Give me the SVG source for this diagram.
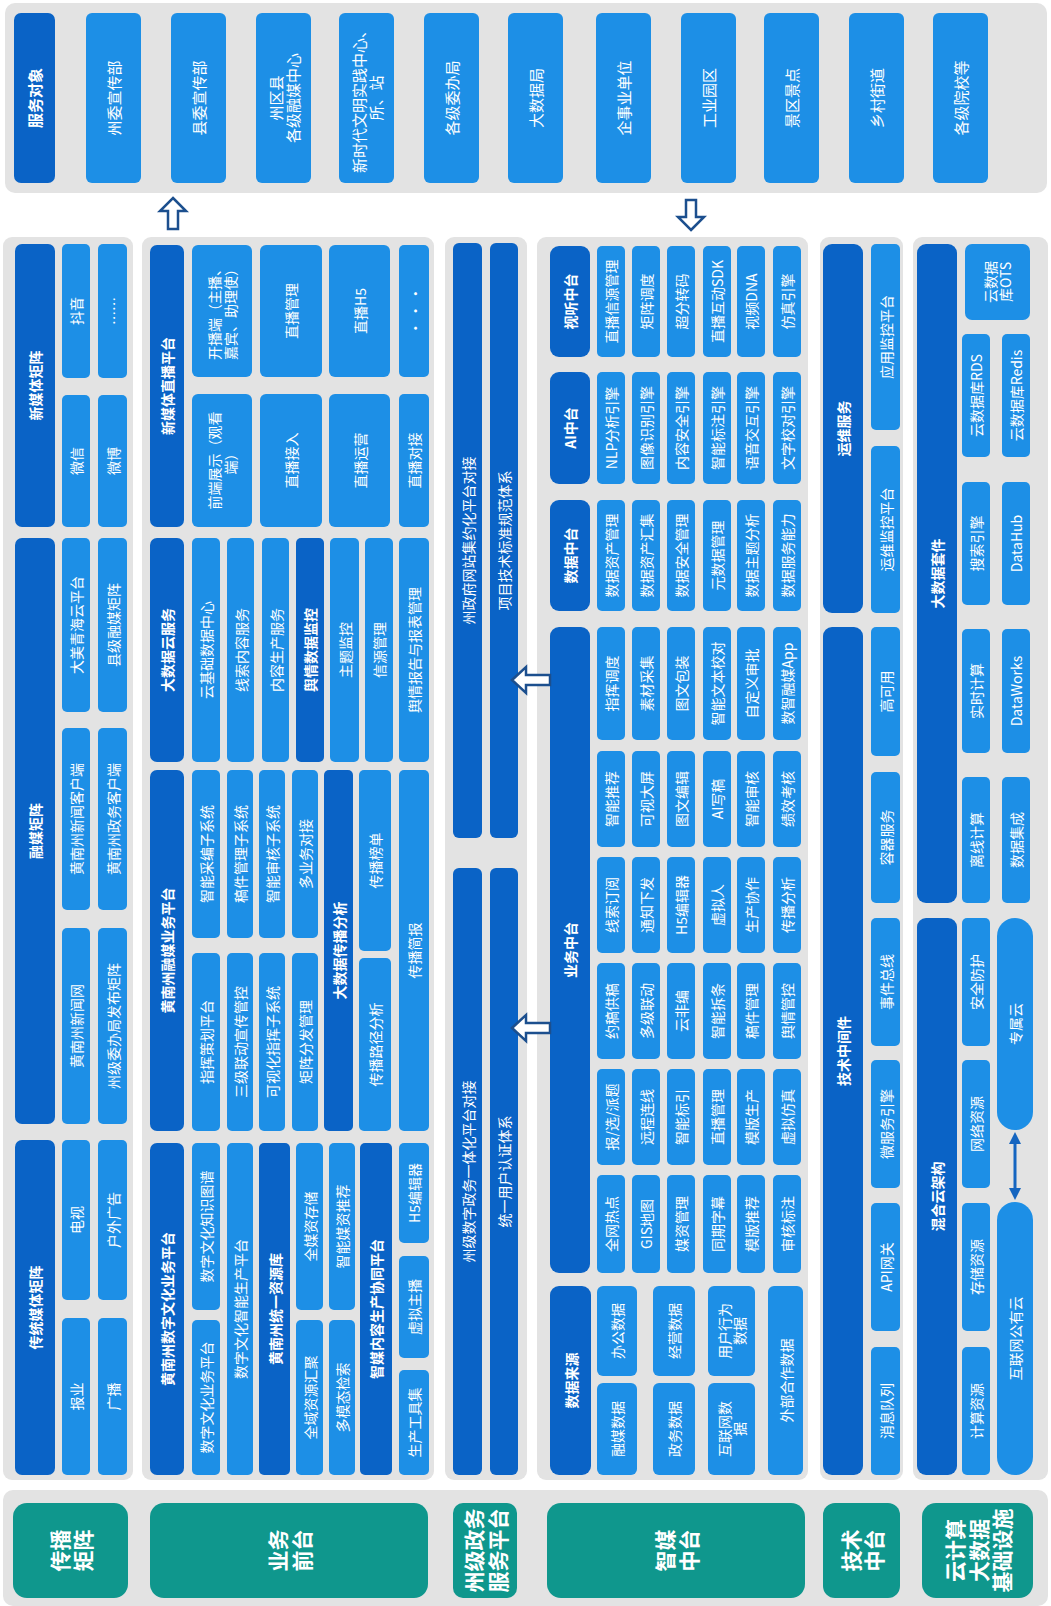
<svg xmlns="http://www.w3.org/2000/svg" width="1051" height="1606" viewBox="0 0 1051 1606">
<defs>
<style>
.pn{fill:#e3e3e3}
.hd{fill:#0a63c6}
.it{fill:#1d8fe6}
.tl{fill:#0f978d}
.t{font-family:"Noto Sans CJK SC","Noto Sans",sans-serif;font-size:14px;fill:#fff;text-anchor:middle;dominant-baseline:central}
.b{font-weight:bold}
.s{font-size:15px}
.tt{font-size:21px;font-weight:bold}
.ar{fill:#fff;stroke:#1c4f8e;stroke-width:2.5}
.dl{stroke:#1565c0;stroke-width:3;fill:none}
</style>
<marker id="ah" viewBox="0 0 10 10" refX="5" refY="5" markerWidth="4" markerHeight="4" orient="auto-start-reverse"><path d="M0,0 L10,5 L0,10 Z" fill="#1565c0"/></marker>
</defs>
<rect width="1051" height="1606" fill="#fff"/>

<!-- panels -->
<g id="panels">
<rect class="pn" x="5" y="3" width="1042" height="190" rx="10"/>
<rect class="pn" x="3" y="237" width="130" height="1243" rx="9"/>
<rect class="pn" x="142" y="237" width="292" height="1243" rx="9"/>
<rect class="pn" x="445" y="237" width="82" height="1243" rx="9"/>
<rect class="pn" x="537" y="237" width="271" height="1243" rx="9"/>
<rect class="pn" x="820" y="237" width="83" height="1243" rx="9"/>
<rect class="pn" x="913" y="237" width="135" height="1243" rx="9"/>
<rect class="pn" x="3" y="1490" width="1045" height="116" rx="10"/>
</g>

<!-- service objects -->
<g id="service">
<g id="n-fwdx"><rect class="hd" x="14" y="13" width="41" height="170" rx="7"/><text class="t s b" x="34.5" y="98" transform="rotate(-90 34.5 98)">服务对象</text></g>
<g id="n-s1"><rect class="it" x="86" y="13" width="55" height="170" rx="6"/><text class="t s" x="113.5" y="98" transform="rotate(-90 113.5 98)">州委宣传部</text></g>
<g id="n-s2"><rect class="it" x="171" y="13" width="55" height="170" rx="6"/><text class="t s" x="198.5" y="98" transform="rotate(-90 198.5 98)">县委宣传部</text></g>
<g id="n-s3"><rect class="it" x="256" y="13" width="55" height="170" rx="6"/><text class="t s" x="283.5" y="98" transform="rotate(-90 283.5 98)"><tspan x="283.5" dy="-0.55em">州区县</tspan><tspan x="283.5" dy="1.1em">各级融媒中心</tspan></text></g>
<g id="n-s4"><rect class="it" x="339" y="13" width="55" height="170" rx="6"/><text class="t s" x="366.5" y="98" transform="rotate(-90 366.5 98)"><tspan x="366.5" dy="-0.55em">新时代文明实践中心、</tspan><tspan x="366.5" dy="1.1em">所、站</tspan></text></g>
<g id="n-s5"><rect class="it" x="424" y="13" width="55" height="170" rx="6"/><text class="t s" x="451.5" y="98" transform="rotate(-90 451.5 98)">各级委办局</text></g>
<g id="n-s6"><rect class="it" x="508" y="13" width="55" height="170" rx="6"/><text class="t s" x="535.5" y="98" transform="rotate(-90 535.5 98)">大数据局</text></g>
<g id="n-s7"><rect class="it" x="596" y="13" width="55" height="170" rx="6"/><text class="t s" x="623.5" y="98" transform="rotate(-90 623.5 98)">企事业单位</text></g>
<g id="n-s8"><rect class="it" x="681" y="13" width="55" height="170" rx="6"/><text class="t s" x="708.5" y="98" transform="rotate(-90 708.5 98)">工业园区</text></g>
<g id="n-s9"><rect class="it" x="764" y="13" width="55" height="170" rx="6"/><text class="t s" x="791.5" y="98" transform="rotate(-90 791.5 98)">景区景点</text></g>
<g id="n-s10"><rect class="it" x="849" y="13" width="55" height="170" rx="6"/><text class="t s" x="876.5" y="98" transform="rotate(-90 876.5 98)">乡村街道</text></g>
<g id="n-s11"><rect class="it" x="933" y="13" width="55" height="170" rx="6"/><text class="t s" x="960.5" y="98" transform="rotate(-90 960.5 98)">各级院校等</text></g>
</g>

<!-- 传播矩阵 -->
<g id="cbjz">
<g id="n-xmtjz"><rect class="hd" x="15" y="244" width="40" height="283" rx="7"/><text class="t b" x="35" y="385.5" transform="rotate(-90 35 385.5)">新媒体矩阵</text></g>
<g id="n-dy"><rect class="it" x="62" y="244" width="28" height="134" rx="5"/><text class="t" x="76" y="311" transform="rotate(-90 76 311)">抖音</text></g>
<g id="n-etc1"><rect class="it" x="98" y="244" width="29" height="134" rx="5"/><text class="t" x="112.5" y="311" transform="rotate(-90 112.5 311)">……</text></g>
<g id="n-wx"><rect class="it" x="62" y="395" width="28" height="132" rx="5"/><text class="t" x="76" y="461" transform="rotate(-90 76 461)">微信</text></g>
<g id="n-wb"><rect class="it" x="98" y="395" width="29" height="132" rx="5"/><text class="t" x="112.5" y="461" transform="rotate(-90 112.5 461)">微博</text></g>
<g id="n-rmjz"><rect class="hd" x="15" y="538" width="40" height="586" rx="7"/><text class="t b" x="35" y="831" transform="rotate(-90 35 831)">融媒矩阵</text></g>
<g id="n-dmqh"><rect class="it" x="62" y="538" width="28" height="174" rx="5"/><text class="t" x="76" y="625" transform="rotate(-90 76 625)">大美青海云平台</text></g>
<g id="n-xjrm"><rect class="it" x="98" y="538" width="29" height="174" rx="5"/><text class="t" x="112.5" y="625" transform="rotate(-90 112.5 625)">县级融媒矩阵</text></g>
<g id="n-xwkhd"><rect class="it" x="62" y="728" width="28" height="182" rx="5"/><text class="t" x="76" y="819" transform="rotate(-90 76 819)">黄南州新闻客户端</text></g>
<g id="n-zwkhd"><rect class="it" x="98" y="728" width="29" height="182" rx="5"/><text class="t" x="112.5" y="819" transform="rotate(-90 112.5 819)">黄南州政务客户端</text></g>
<g id="n-xww"><rect class="it" x="62" y="928" width="28" height="196" rx="5"/><text class="t" x="76" y="1026" transform="rotate(-90 76 1026)">黄南州新闻网</text></g>
<g id="n-wbj"><rect class="it" x="98" y="928" width="29" height="196" rx="5"/><text class="t" x="112.5" y="1026" transform="rotate(-90 112.5 1026)">州级委办局发布矩阵</text></g>
<g id="n-ctmt"><rect class="hd" x="15" y="1140" width="40" height="335" rx="7"/><text class="t b" x="35" y="1307.5" transform="rotate(-90 35 1307.5)">传统媒体矩阵</text></g>
<g id="n-ds"><rect class="it" x="62" y="1140" width="28" height="160" rx="5"/><text class="t" x="76" y="1220" transform="rotate(-90 76 1220)">电视</text></g>
<g id="n-hwgg"><rect class="it" x="98" y="1140" width="29" height="160" rx="5"/><text class="t" x="112.5" y="1220" transform="rotate(-90 112.5 1220)">户外广告</text></g>
<g id="n-by"><rect class="it" x="62" y="1318" width="28" height="157" rx="5"/><text class="t" x="76" y="1396.5" transform="rotate(-90 76 1396.5)">报业</text></g>
<g id="n-gb"><rect class="it" x="98" y="1318" width="29" height="157" rx="5"/><text class="t" x="112.5" y="1396.5" transform="rotate(-90 112.5 1396.5)">广播</text></g>
</g>

<!-- 业务前台 -->
<g id="ywqt">
<g id="n-zbpt"><rect class="hd" x="150" y="245" width="34" height="282" rx="7"/><text class="t b" x="167" y="386" transform="rotate(-90 167 386)">新媒体直播平台</text></g>
<g id="n-kbd"><rect class="it" x="192" y="245" width="60" height="132" rx="6"/><text class="t" x="222" y="311" transform="rotate(-90 222 311)"><tspan x="222" dy="-0.55em">开播端（主播、</tspan><tspan x="222" dy="1.1em">嘉宾、助理使）</tspan></text></g>
<g id="n-qdzs"><rect class="it" x="192" y="394" width="60" height="133" rx="6"/><text class="t" x="222" y="460.5" transform="rotate(-90 222 460.5)"><tspan x="222" dy="-0.55em">前端展示（观看</tspan><tspan x="222" dy="1.1em">端）</tspan></text></g>
<g id="n-zbgl"><rect class="it" x="260" y="245" width="62" height="132" rx="6"/><text class="t" x="291" y="311" transform="rotate(-90 291 311)">直播管理</text></g>
<g id="n-zbjr"><rect class="it" x="260" y="394" width="62" height="133" rx="6"/><text class="t" x="291" y="460.5" transform="rotate(-90 291 460.5)">直播接入</text></g>
<g id="n-zbh5"><rect class="it" x="329" y="245" width="61" height="132" rx="6"/><text class="t" x="359.5" y="311" transform="rotate(-90 359.5 311)">直播H5</text></g>
<g id="n-zbyy"><rect class="it" x="329" y="394" width="61" height="133" rx="6"/><text class="t" x="359.5" y="460.5" transform="rotate(-90 359.5 460.5)">直播运营</text></g>
<g id="n-etc2"><rect class="it" x="399" y="245" width="30" height="132" rx="5"/><text class="t" x="414" y="311" transform="rotate(-90 414 311)">· · ·</text></g>
<g id="n-zbdj"><rect class="it" x="399" y="394" width="30" height="133" rx="5"/><text class="t" x="414" y="460.5" transform="rotate(-90 414 460.5)">直播对接</text></g>

<g id="n-dsjy"><rect class="hd" x="150" y="538" width="34" height="224" rx="7"/><text class="t b" x="167" y="650" transform="rotate(-90 167 650)">大数据云服务</text></g>
<g id="n-yjc"><rect class="it" x="192" y="538" width="28" height="224" rx="5"/><text class="t" x="206" y="650" transform="rotate(-90 206 650)">云基础数据中心</text></g>
<g id="n-xsnr"><rect class="it" x="227" y="538" width="27" height="224" rx="5"/><text class="t" x="240.5" y="650" transform="rotate(-90 240.5 650)">线索内容服务</text></g>
<g id="n-nrsc"><rect class="it" x="262" y="538" width="27" height="224" rx="5"/><text class="t" x="275.5" y="650" transform="rotate(-90 275.5 650)">内容生产服务</text></g>
<g id="n-yqjk"><rect class="hd" x="296" y="538" width="28" height="224" rx="5"/><text class="t b" x="310" y="650" transform="rotate(-90 310 650)">舆情数据监控</text></g>
<g id="n-ztjk"><rect class="it" x="330" y="538" width="29" height="224" rx="5"/><text class="t" x="344.5" y="650" transform="rotate(-90 344.5 650)">主题监控</text></g>
<g id="n-xygl"><rect class="it" x="365" y="538" width="28" height="224" rx="5"/><text class="t" x="379" y="650" transform="rotate(-90 379 650)">信源管理</text></g>
<g id="n-yqbg"><rect class="it" x="399" y="538" width="30" height="224" rx="5"/><text class="t" x="414" y="650" transform="rotate(-90 414 650)">舆情报告与报表管理</text></g>

<g id="n-rmyw"><rect class="hd" x="150" y="770" width="34" height="361" rx="7"/><text class="t b" x="167" y="950.5" transform="rotate(-90 167 950.5)">黄南州融媒业务平台</text></g>
<g id="n-zncb"><rect class="it" x="192" y="770" width="28" height="168" rx="5"/><text class="t" x="206" y="854" transform="rotate(-90 206 854)">智能采编子系统</text></g>
<g id="n-gjgl"><rect class="it" x="227" y="770" width="26" height="168" rx="5"/><text class="t" x="240" y="854" transform="rotate(-90 240 854)">稿件管理子系统</text></g>
<g id="n-znsh"><rect class="it" x="259" y="770" width="26" height="168" rx="5"/><text class="t" x="272" y="854" transform="rotate(-90 272 854)">智能审核子系统</text></g>
<g id="n-dywdj"><rect class="it" x="292" y="770" width="26" height="168" rx="5"/><text class="t" x="305" y="854" transform="rotate(-90 305 854)">多业务对接</text></g>
<g id="n-zhch"><rect class="it" x="192" y="953" width="28" height="178" rx="5"/><text class="t" x="206" y="1042" transform="rotate(-90 206 1042)">指挥策划平台</text></g>
<g id="n-sjld"><rect class="it" x="227" y="953" width="26" height="178" rx="5"/><text class="t" x="240" y="1042" transform="rotate(-90 240 1042)">三级联动宣传管控</text></g>
<g id="n-kshzh"><rect class="it" x="259" y="953" width="26" height="178" rx="5"/><text class="t" x="272" y="1042" transform="rotate(-90 272 1042)">可视化指挥子系统</text></g>
<g id="n-jzff"><rect class="it" x="292" y="953" width="26" height="178" rx="5"/><text class="t" x="305" y="1042" transform="rotate(-90 305 1042)">矩阵分发管理</text></g>
<g id="n-dsjcb"><rect class="hd" x="324" y="770" width="29" height="361" rx="5"/><text class="t b" x="338.5" y="950.5" transform="rotate(-90 338.5 950.5)">大数据传播分析</text></g>
<g id="n-cbbd"><rect class="it" x="359" y="770" width="32" height="181" rx="5"/><text class="t" x="375" y="860.5" transform="rotate(-90 375 860.5)">传播榜单</text></g>
<g id="n-cblj"><rect class="it" x="359" y="958" width="32" height="173" rx="5"/><text class="t" x="375" y="1044.5" transform="rotate(-90 375 1044.5)">传播路径分析</text></g>
<g id="n-cbjb"><rect class="it" x="399" y="770" width="30" height="361" rx="5"/><text class="t" x="414" y="950.5" transform="rotate(-90 414 950.5)">传播简报</text></g>

<g id="n-szwh"><rect class="hd" x="150" y="1143" width="34" height="332" rx="7"/><text class="t b" x="167" y="1309" transform="rotate(-90 167 1309)">黄南州数字文化业务平台</text></g>
<g id="n-zstp"><rect class="it" x="192" y="1143" width="28" height="167" rx="5"/><text class="t" x="206" y="1226.5" transform="rotate(-90 206 1226.5)">数字文化知识图谱</text></g>
<g id="n-whyw"><rect class="it" x="192" y="1320" width="28" height="155" rx="5"/><text class="t" x="206" y="1397.5" transform="rotate(-90 206 1397.5)">数字文化业务平台</text></g>
<g id="n-znsc"><rect class="it" x="227" y="1143" width="26" height="332" rx="5"/><text class="t" x="240" y="1309" transform="rotate(-90 240 1309)">数字文化智能生产平台</text></g>
<g id="n-zyk"><rect class="hd" x="259" y="1143" width="31" height="332" rx="5"/><text class="t b" x="274.5" y="1309" transform="rotate(-90 274.5 1309)">黄南州统一资源库</text></g>
<g id="n-qmzc"><rect class="it" x="296" y="1143" width="27" height="167" rx="5"/><text class="t" x="309.5" y="1226.5" transform="rotate(-90 309.5 1226.5)">全媒资存储</text></g>
<g id="n-znmz"><rect class="it" x="329" y="1143" width="26" height="167" rx="5"/><text class="t" x="342" y="1226.5" transform="rotate(-90 342 1226.5)">智能媒资推荐</text></g>
<g id="n-qyzy"><rect class="it" x="296" y="1320" width="27" height="155" rx="5"/><text class="t" x="309.5" y="1397.5" transform="rotate(-90 309.5 1397.5)">全域资源汇聚</text></g>
<g id="n-dmt"><rect class="it" x="329" y="1320" width="26" height="155" rx="5"/><text class="t" x="342" y="1397.5" transform="rotate(-90 342 1397.5)">多模态检索</text></g>
<g id="n-xtpt"><rect class="hd" x="360" y="1143" width="32" height="332" rx="5"/><text class="t b" x="376" y="1309" transform="rotate(-90 376 1309)">智媒内容生产协同平台</text></g>
<g id="n-h5bj"><rect class="it" x="399" y="1143" width="30" height="100" rx="5"/><text class="t" x="414" y="1193" transform="rotate(-90 414 1193)">H5编辑器</text></g>
<g id="n-xnzb"><rect class="it" x="399" y="1256" width="30" height="102" rx="5"/><text class="t" x="414" y="1307" transform="rotate(-90 414 1307)">虚拟主播</text></g>
<g id="n-scgj"><rect class="it" x="399" y="1370" width="30" height="105" rx="5"/><text class="t" x="414" y="1422.5" transform="rotate(-90 414 1422.5)">生产工具集</text></g>
</g>

<!-- 州级政务服务平台 -->
<g id="zjzw">
<g id="n-jyh"><rect class="hd" x="453" y="243" width="29" height="595" rx="6"/><text class="t" x="467.5" y="540.5" transform="rotate(-90 467.5 540.5)">州政府网站集约化平台对接</text></g>
<g id="n-bzgf"><rect class="hd" x="490" y="243" width="28" height="595" rx="6"/><text class="t" x="504" y="540.5" transform="rotate(-90 504 540.5)">项目技术标准规范体系</text></g>
<g id="n-ythpt"><rect class="hd" x="453" y="868" width="29" height="607" rx="6"/><text class="t" x="467.5" y="1171.5" transform="rotate(-90 467.5 1171.5)">州级数字政务一体化平台对接</text></g>
<g id="n-tyrz"><rect class="hd" x="490" y="868" width="28" height="607" rx="6"/><text class="t" x="504" y="1171.5" transform="rotate(-90 504 1171.5)">统一用户认证体系</text></g>
</g>

<!-- 智媒中台 -->
<g id="zmzt">
<g id="n-stzt"><rect class="hd" x="550" y="246" width="40" height="111" rx="9"/><text class="t b" x="570" y="301.5" transform="rotate(-90 570 301.5)">视听中台</text></g>
<g id="n-v1"><rect class="it" x="597" y="246" width="28" height="111" rx="5"/><text class="t" x="611" y="301.5" transform="rotate(-90 611 301.5)">直播信源管理</text></g>
<g id="n-v2"><rect class="it" x="632" y="246" width="28" height="111" rx="5"/><text class="t" x="646" y="301.5" transform="rotate(-90 646 301.5)">矩阵调度</text></g>
<g id="n-v3"><rect class="it" x="667" y="246" width="28" height="111" rx="5"/><text class="t" x="681" y="301.5" transform="rotate(-90 681 301.5)">超分转码</text></g>
<g id="n-v4"><rect class="it" x="703" y="246" width="28" height="111" rx="5"/><text class="t" x="717" y="301.5" transform="rotate(-90 717 301.5)">直播互动SDK</text></g>
<g id="n-v5"><rect class="it" x="737" y="246" width="28" height="111" rx="5"/><text class="t" x="751" y="301.5" transform="rotate(-90 751 301.5)">视频DNA</text></g>
<g id="n-v6"><rect class="it" x="773" y="246" width="28" height="111" rx="5"/><text class="t" x="787" y="301.5" transform="rotate(-90 787 301.5)">仿真引擎</text></g>

<g id="n-aizt"><rect class="hd" x="550" y="372" width="40" height="112" rx="9"/><text class="t b" x="570" y="428" transform="rotate(-90 570 428)">AI中台</text></g>
<g id="n-a1"><rect class="it" x="597" y="372" width="28" height="112" rx="5"/><text class="t" x="611" y="428" transform="rotate(-90 611 428)">NLP分析引擎</text></g>
<g id="n-a2"><rect class="it" x="632" y="372" width="28" height="112" rx="5"/><text class="t" x="646" y="428" transform="rotate(-90 646 428)">图像识别引擎</text></g>
<g id="n-a3"><rect class="it" x="667" y="372" width="28" height="112" rx="5"/><text class="t" x="681" y="428" transform="rotate(-90 681 428)">内容安全引擎</text></g>
<g id="n-a4"><rect class="it" x="703" y="372" width="28" height="112" rx="5"/><text class="t" x="717" y="428" transform="rotate(-90 717 428)">智能标注引擎</text></g>
<g id="n-a5"><rect class="it" x="737" y="372" width="28" height="112" rx="5"/><text class="t" x="751" y="428" transform="rotate(-90 751 428)">语音交互引擎</text></g>
<g id="n-a6"><rect class="it" x="773" y="372" width="28" height="112" rx="5"/><text class="t" x="787" y="428" transform="rotate(-90 787 428)">文字校对引擎</text></g>

<g id="n-sjzt"><rect class="hd" x="550" y="500" width="40" height="111" rx="9"/><text class="t b" x="570" y="555.5" transform="rotate(-90 570 555.5)">数据中台</text></g>
<g id="n-d1"><rect class="it" x="597" y="500" width="28" height="111" rx="5"/><text class="t" x="611" y="555.5" transform="rotate(-90 611 555.5)">数据资产管理</text></g>
<g id="n-d2"><rect class="it" x="632" y="500" width="28" height="111" rx="5"/><text class="t" x="646" y="555.5" transform="rotate(-90 646 555.5)">数据资产汇集</text></g>
<g id="n-d3"><rect class="it" x="667" y="500" width="28" height="111" rx="5"/><text class="t" x="681" y="555.5" transform="rotate(-90 681 555.5)">数据安全管理</text></g>
<g id="n-d4"><rect class="it" x="703" y="500" width="28" height="111" rx="5"/><text class="t" x="717" y="555.5" transform="rotate(-90 717 555.5)">元数据管理</text></g>
<g id="n-d5"><rect class="it" x="737" y="500" width="28" height="111" rx="5"/><text class="t" x="751" y="555.5" transform="rotate(-90 751 555.5)">数据主题分析</text></g>
<g id="n-d6"><rect class="it" x="773" y="500" width="28" height="111" rx="5"/><text class="t" x="787" y="555.5" transform="rotate(-90 787 555.5)">数据服务能力</text></g>

<g id="n-ywzt"><rect class="hd" x="550" y="627" width="40" height="646" rx="9"/><text class="t b" x="570" y="950" transform="rotate(-90 570 950)">业务中台</text></g>
<g id="n-ya1"><rect class="it" x="597" y="627" width="28" height="113" rx="5"/><text class="t" x="611" y="683.5" transform="rotate(-90 611 683.5)">指挥调度</text></g>
<g id="n-ya2"><rect class="it" x="632" y="627" width="28" height="113" rx="5"/><text class="t" x="646" y="683.5" transform="rotate(-90 646 683.5)">素材采集</text></g>
<g id="n-ya3"><rect class="it" x="667" y="627" width="28" height="113" rx="5"/><text class="t" x="681" y="683.5" transform="rotate(-90 681 683.5)">图文包装</text></g>
<g id="n-ya4"><rect class="it" x="703" y="627" width="28" height="113" rx="5"/><text class="t" x="717" y="683.5" transform="rotate(-90 717 683.5)">智能文本校对</text></g>
<g id="n-ya5"><rect class="it" x="737" y="627" width="28" height="113" rx="5"/><text class="t" x="751" y="683.5" transform="rotate(-90 751 683.5)">自定义审批</text></g>
<g id="n-ya6"><rect class="it" x="773" y="627" width="28" height="113" rx="5"/><text class="t" x="787" y="683.5" transform="rotate(-90 787 683.5)">数智融媒App</text></g>

<g id="n-yb1"><rect class="it" x="597" y="751" width="28" height="96" rx="5"/><text class="t" x="611" y="799" transform="rotate(-90 611 799)">智能推荐</text></g>
<g id="n-yb2"><rect class="it" x="632" y="751" width="28" height="96" rx="5"/><text class="t" x="646" y="799" transform="rotate(-90 646 799)">可视大屏</text></g>
<g id="n-yb3"><rect class="it" x="667" y="751" width="28" height="96" rx="5"/><text class="t" x="681" y="799" transform="rotate(-90 681 799)">图文编辑</text></g>
<g id="n-yb4"><rect class="it" x="703" y="751" width="28" height="96" rx="5"/><text class="t" x="717" y="799" transform="rotate(-90 717 799)">AI写稿</text></g>
<g id="n-yb5"><rect class="it" x="737" y="751" width="28" height="96" rx="5"/><text class="t" x="751" y="799" transform="rotate(-90 751 799)">智能审核</text></g>
<g id="n-yb6"><rect class="it" x="773" y="751" width="28" height="96" rx="5"/><text class="t" x="787" y="799" transform="rotate(-90 787 799)">绩效考核</text></g>

<g id="n-yc1"><rect class="it" x="597" y="857" width="28" height="96" rx="5"/><text class="t" x="611" y="905" transform="rotate(-90 611 905)">线索订阅</text></g>
<g id="n-yc2"><rect class="it" x="632" y="857" width="28" height="96" rx="5"/><text class="t" x="646" y="905" transform="rotate(-90 646 905)">通知下发</text></g>
<g id="n-yc3"><rect class="it" x="667" y="857" width="28" height="96" rx="5"/><text class="t" x="681" y="905" transform="rotate(-90 681 905)">H5编辑器</text></g>
<g id="n-yc4"><rect class="it" x="703" y="857" width="28" height="96" rx="5"/><text class="t" x="717" y="905" transform="rotate(-90 717 905)">虚拟人</text></g>
<g id="n-yc5"><rect class="it" x="737" y="857" width="28" height="96" rx="5"/><text class="t" x="751" y="905" transform="rotate(-90 751 905)">生产协作</text></g>
<g id="n-yc6"><rect class="it" x="773" y="857" width="28" height="96" rx="5"/><text class="t" x="787" y="905" transform="rotate(-90 787 905)">传播分析</text></g>

<g id="n-yd1"><rect class="it" x="597" y="963" width="28" height="96" rx="5"/><text class="t" x="611" y="1011" transform="rotate(-90 611 1011)">约稿供稿</text></g>
<g id="n-yd2"><rect class="it" x="632" y="963" width="28" height="96" rx="5"/><text class="t" x="646" y="1011" transform="rotate(-90 646 1011)">多级联动</text></g>
<g id="n-yd3"><rect class="it" x="667" y="963" width="28" height="96" rx="5"/><text class="t" x="681" y="1011" transform="rotate(-90 681 1011)">云非编</text></g>
<g id="n-yd4"><rect class="it" x="703" y="963" width="28" height="96" rx="5"/><text class="t" x="717" y="1011" transform="rotate(-90 717 1011)">智能拆条</text></g>
<g id="n-yd5"><rect class="it" x="737" y="963" width="28" height="96" rx="5"/><text class="t" x="751" y="1011" transform="rotate(-90 751 1011)">稿件管理</text></g>
<g id="n-yd6"><rect class="it" x="773" y="963" width="28" height="96" rx="5"/><text class="t" x="787" y="1011" transform="rotate(-90 787 1011)">舆情管控</text></g>

<g id="n-ye1"><rect class="it" x="597" y="1069" width="28" height="96" rx="5"/><text class="t" x="611" y="1117" transform="rotate(-90 611 1117)">报/选/派题</text></g>
<g id="n-ye2"><rect class="it" x="632" y="1069" width="28" height="96" rx="5"/><text class="t" x="646" y="1117" transform="rotate(-90 646 1117)">远程连线</text></g>
<g id="n-ye3"><rect class="it" x="667" y="1069" width="28" height="96" rx="5"/><text class="t" x="681" y="1117" transform="rotate(-90 681 1117)">智能标引</text></g>
<g id="n-ye4"><rect class="it" x="703" y="1069" width="28" height="96" rx="5"/><text class="t" x="717" y="1117" transform="rotate(-90 717 1117)">直播管理</text></g>
<g id="n-ye5"><rect class="it" x="737" y="1069" width="28" height="96" rx="5"/><text class="t" x="751" y="1117" transform="rotate(-90 751 1117)">模版生产</text></g>
<g id="n-ye6"><rect class="it" x="773" y="1069" width="28" height="96" rx="5"/><text class="t" x="787" y="1117" transform="rotate(-90 787 1117)">虚拟仿真</text></g>

<g id="n-yf1"><rect class="it" x="597" y="1175" width="28" height="98" rx="5"/><text class="t" x="611" y="1224" transform="rotate(-90 611 1224)">全网热点</text></g>
<g id="n-yf2"><rect class="it" x="632" y="1175" width="28" height="98" rx="5"/><text class="t" x="646" y="1224" transform="rotate(-90 646 1224)">GIS地图</text></g>
<g id="n-yf3"><rect class="it" x="667" y="1175" width="28" height="98" rx="5"/><text class="t" x="681" y="1224" transform="rotate(-90 681 1224)">媒资管理</text></g>
<g id="n-yf4"><rect class="it" x="703" y="1175" width="28" height="98" rx="5"/><text class="t" x="717" y="1224" transform="rotate(-90 717 1224)">同期字幕</text></g>
<g id="n-yf5"><rect class="it" x="737" y="1175" width="28" height="98" rx="5"/><text class="t" x="751" y="1224" transform="rotate(-90 751 1224)">模版推荐</text></g>
<g id="n-yf6"><rect class="it" x="773" y="1175" width="28" height="98" rx="5"/><text class="t" x="787" y="1224" transform="rotate(-90 787 1224)">审核标注</text></g>

<g id="n-sjly"><rect class="hd" x="550" y="1286" width="41" height="189" rx="9"/><text class="t b" x="570.5" y="1380.5" transform="rotate(-90 570.5 1380.5)">数据来源</text></g>
<g id="n-bgsj"><rect class="it" x="597" y="1286" width="40" height="90" rx="6"/><text class="t" x="617" y="1331" transform="rotate(-90 617 1331)">办公数据</text></g>
<g id="n-rmsj"><rect class="it" x="597" y="1383" width="40" height="92" rx="6"/><text class="t" x="617" y="1429" transform="rotate(-90 617 1429)">融媒数据</text></g>
<g id="n-jysj"><rect class="it" x="653" y="1286" width="42" height="90" rx="6"/><text class="t" x="674" y="1331" transform="rotate(-90 674 1331)">经营数据</text></g>
<g id="n-zwsj"><rect class="it" x="653" y="1383" width="42" height="92" rx="6"/><text class="t" x="674" y="1429" transform="rotate(-90 674 1429)">政务数据</text></g>
<g id="n-yhxw"><rect class="it" x="708" y="1286" width="47" height="90" rx="6"/><text class="t" x="731.5" y="1331" transform="rotate(-90 731.5 1331)"><tspan x="731.5" dy="-0.55em">用户行为</tspan><tspan x="731.5" dy="1.1em">数据</tspan></text></g>
<g id="n-hlw"><rect class="it" x="708" y="1383" width="47" height="92" rx="6"/><text class="t" x="731.5" y="1429" transform="rotate(-90 731.5 1429)"><tspan x="731.5" dy="-0.55em">互联网数</tspan><tspan x="731.5" dy="1.1em">据</tspan></text></g>
<g id="n-wbhz"><rect class="it" x="768" y="1286" width="35" height="189" rx="6"/><text class="t" x="785.5" y="1380.5" transform="rotate(-90 785.5 1380.5)">外部合作数据</text></g>
</g>

<!-- 技术中台 -->
<g id="jszt">
<g id="n-ywfw"><rect class="hd" x="823" y="244" width="40" height="369" rx="9"/><text class="t b" x="843" y="428.5" transform="rotate(-90 843 428.5)">运维服务</text></g>
<g id="n-yyjk"><rect class="it" x="871" y="244" width="29" height="186" rx="5"/><text class="t" x="885.5" y="337" transform="rotate(-90 885.5 337)">应用监控平台</text></g>
<g id="n-ywjk"><rect class="it" x="871" y="446" width="29" height="167" rx="5"/><text class="t" x="885.5" y="529.5" transform="rotate(-90 885.5 529.5)">运维监控平台</text></g>
<g id="n-jszjj"><rect class="hd" x="823" y="627" width="40" height="848" rx="9"/><text class="t b" x="843" y="1051" transform="rotate(-90 843 1051)">技术中间件</text></g>
<g id="n-gky"><rect class="it" x="871" y="627" width="29" height="129" rx="5"/><text class="t" x="885.5" y="691.5" transform="rotate(-90 885.5 691.5)">高可用</text></g>
<g id="n-rqfw"><rect class="it" x="871" y="772" width="29" height="131" rx="5"/><text class="t" x="885.5" y="837.5" transform="rotate(-90 885.5 837.5)">容器服务</text></g>
<g id="n-sjzx"><rect class="it" x="871" y="918" width="29" height="128" rx="5"/><text class="t" x="885.5" y="982" transform="rotate(-90 885.5 982)">事件总线</text></g>
<g id="n-wfw"><rect class="it" x="871" y="1060" width="29" height="128" rx="5"/><text class="t" x="885.5" y="1124" transform="rotate(-90 885.5 1124)">微服务引擎</text></g>
<g id="n-api"><rect class="it" x="871" y="1203" width="29" height="128" rx="5"/><text class="t" x="885.5" y="1267" transform="rotate(-90 885.5 1267)">API网关</text></g>
<g id="n-xxdl"><rect class="it" x="871" y="1347" width="29" height="128" rx="5"/><text class="t" x="885.5" y="1411" transform="rotate(-90 885.5 1411)">消息队列</text></g>
</g>

<!-- 云计算大数据基础设施 -->
<g id="yjs">
<g id="n-dsjtj"><rect class="hd" x="917" y="244" width="40" height="659" rx="9"/><text class="t b" x="937" y="573.5" transform="rotate(-90 937 573.5)">大数据套件</text></g>
<g id="n-ots"><rect class="it" x="965" y="244" width="65" height="76" rx="7"/><text class="t" x="997.5" y="282" transform="rotate(-90 997.5 282)"><tspan x="997.5" dy="-0.55em">云数据</tspan><tspan x="997.5" dy="1.1em">库OTS</tspan></text></g>
<g id="n-rds"><rect class="it" x="962" y="334" width="28" height="123" rx="5"/><text class="t" x="976" y="395.5" transform="rotate(-90 976 395.5)">云数据库RDS</text></g>
<g id="n-redis"><rect class="it" x="1002" y="334" width="28" height="123" rx="5"/><text class="t" x="1016" y="395.5" transform="rotate(-90 1016 395.5)">云数据库Redis</text></g>
<g id="n-ssyq"><rect class="it" x="962" y="482" width="28" height="123" rx="5"/><text class="t" x="976" y="543.5" transform="rotate(-90 976 543.5)">搜索引擎</text></g>
<g id="n-datahub"><rect class="it" x="1002" y="482" width="28" height="123" rx="5"/><text class="t" x="1016" y="543.5" transform="rotate(-90 1016 543.5)">DataHub</text></g>
<g id="n-ssjs"><rect class="it" x="962" y="629" width="28" height="124" rx="5"/><text class="t" x="976" y="691" transform="rotate(-90 976 691)">实时计算</text></g>
<g id="n-dataworks"><rect class="it" x="1002" y="629" width="28" height="124" rx="5"/><text class="t" x="1016" y="691" transform="rotate(-90 1016 691)">DataWorks</text></g>
<g id="n-lxjs"><rect class="it" x="962" y="777" width="28" height="126" rx="5"/><text class="t" x="976" y="840" transform="rotate(-90 976 840)">离线计算</text></g>
<g id="n-sjjc"><rect class="it" x="1002" y="777" width="28" height="126" rx="5"/><text class="t" x="1016" y="840" transform="rotate(-90 1016 840)">数据集成</text></g>
<g id="n-hhy"><rect class="hd" x="917" y="918" width="40" height="557" rx="9"/><text class="t b" x="937" y="1196.5" transform="rotate(-90 937 1196.5)">混合云架构</text></g>
<g id="n-aqfh"><rect class="it" x="962" y="918" width="28" height="128" rx="5"/><text class="t" x="976" y="982" transform="rotate(-90 976 982)">安全防护</text></g>
<g id="n-wlzy"><rect class="it" x="962" y="1060" width="28" height="128" rx="5"/><text class="t" x="976" y="1124" transform="rotate(-90 976 1124)">网络资源</text></g>
<g id="n-cczy"><rect class="it" x="962" y="1203" width="28" height="128" rx="5"/><text class="t" x="976" y="1267" transform="rotate(-90 976 1267)">存储资源</text></g>
<g id="n-jszy"><rect class="it" x="962" y="1347" width="28" height="128" rx="5"/><text class="t" x="976" y="1411" transform="rotate(-90 976 1411)">计算资源</text></g>
<g id="n-zsy"><rect class="it" x="997" y="918" width="36" height="212" rx="18"/><text class="t" x="1015" y="1024" transform="rotate(-90 1015 1024)">专属云</text></g>
<g id="n-gyy"><rect class="it" x="997" y="1202" width="36" height="273" rx="18"/><text class="t" x="1015" y="1338.5" transform="rotate(-90 1015 1338.5)">互联网公有云</text></g>
</g>

<!-- layer labels -->
<g id="layers">
<g id="n-l1"><rect class="tl" x="13" y="1503" width="115" height="95" rx="14"/><text class="t tt" x="70.5" y="1550.5" transform="rotate(-90 70.5 1550.5)"><tspan x="70.5" dy="-0.55em">传播</tspan><tspan x="70.5" dy="1.1em">矩阵</tspan></text></g>
<g id="n-l2"><rect class="tl" x="150" y="1503" width="278" height="95" rx="14"/><text class="t tt" x="289" y="1550.5" transform="rotate(-90 289 1550.5)"><tspan x="289" dy="-0.55em">业务</tspan><tspan x="289" dy="1.1em">前台</tspan></text></g>
<g id="n-l3"><rect class="tl" x="453" y="1503" width="64" height="95" rx="10"/><text class="t tt" x="485" y="1550.5" transform="rotate(-90 485 1550.5)"><tspan x="485" dy="-0.55em">州级政务</tspan><tspan x="485" dy="1.1em">服务平台</tspan></text></g>
<g id="n-l4"><rect class="tl" x="547" y="1503" width="258" height="95" rx="14"/><text class="t tt" x="676" y="1550.5" transform="rotate(-90 676 1550.5)"><tspan x="676" dy="-0.55em">智媒</tspan><tspan x="676" dy="1.1em">中台</tspan></text></g>
<g id="n-l5"><rect class="tl" x="823" y="1503" width="77" height="95" rx="12"/><text class="t tt" x="861.5" y="1550.5" transform="rotate(-90 861.5 1550.5)"><tspan x="861.5" dy="-0.55em">技术</tspan><tspan x="861.5" dy="1.1em">中台</tspan></text></g>
<g id="n-l6"><rect class="tl" x="922" y="1503" width="111" height="95" rx="14"/><text class="t tt" x="977.5" y="1550.5" transform="rotate(-90 977.5 1550.5)"><tspan x="977.5" dy="-1.1em">云计算</tspan><tspan x="977.5" dy="1.1em">大数据</tspan><tspan x="977.5" dy="1.1em">基础设施</tspan></text></g>
</g>

<!-- connectors -->
<g id="connectors">
<path class="ar" d="M173,198 L186,211 L178,211 L178,229 L168,229 L168,211 L160,211 Z"/>
<path class="ar" d="M691,230 L704,217 L696,217 L696,200 L686,200 L686,217 L678,217 Z"/>
<path class="ar" d="M512,680 L526,667 L526,675 L550,675 L550,685 L526,685 L526,693 Z"/>
<path class="ar" d="M512,1028 L526,1015 L526,1023 L550,1023 L550,1033 L526,1033 L526,1041 Z"/>
<line class="dl" x1="1015" y1="1138" x2="1015" y2="1194" marker-start="url(#ah)" marker-end="url(#ah)"/>
</g>
</svg>
